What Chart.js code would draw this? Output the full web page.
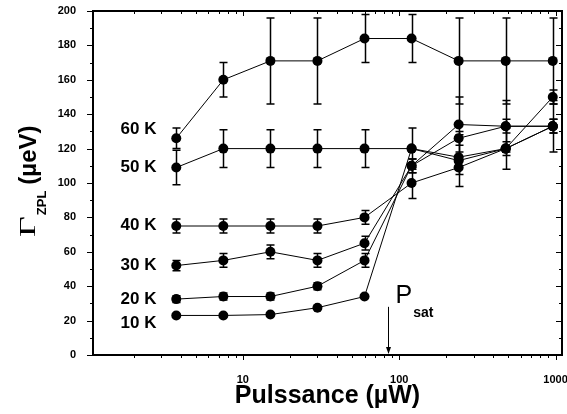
<!DOCTYPE html>
<html>
<head>
<meta charset="utf-8">
<script src="https://cdn.jsdelivr.net/npm/chart.js@4.4.0/dist/chart.umd.min.js"></script>
<style>
  html, body { margin: 0; padding: 0; background: #fff; }
  #wrap { width: 567px; height: 414px; }
</style>
</head>
<body>
<div id="wrap"><canvas id="chart"></canvas></div>
<script>
// excitation power (µW)
const powers = [3.75, 7.5, 15, 30, 60, 120, 240, 480, 960];

// zero-phonon linewidth (µeV) per temperature
const temps = ['10 K', '20 K', '30 K', '40 K', '50 K', '60 K'];
const g10 = [23, 23, 23.5, 27.5, 34, 120, 115, 120, 133];
const g20 = [32.5, 34, 34, 40, 55, 110, 134, 133, 133];
const g30 = [52, 55, 60, 55, 65, 110, 126, 133, 133];
const g40 = [75, 75, 75, 75, 80, 100, 109, 120, 150];
const g50 = [109, 120, 120, 120, 120, 120, 113, 120, 133];
const g60 = [126, 160, 171, 171, 184, 184, 171, 171, 171];

// error bars (µeV, +/-)
const e10 = [0, 0, 0, 0, 0, 0, 0, 0, 0];
const e20 = [2, 2, 2, 2, 4, 4, 16, 4, 4];
const e30 = [3, 4, 4, 4, 4, 4, 4, 15, 4];
const e40 = [4, 4, 4, 4, 4, 9, 4, 4, 4];
const e50 = [10, 11, 11, 11, 11, 12, 15, 12, 15];
const e60 = [6, 10, 25, 25, 14, 14, 25, 25, 25];

// axis ticks
const xTicks = [2, 3, 4, 5, 6, 7, 8, 9, 10, 20, 30, 40, 50, 60, 70, 80, 90, 100,
                200, 300, 400, 500, 600, 700, 800, 900, 1000];
const xLabels = [10, 100, 1000];

// saturation power marker (µW)
const psat = 85;

const series = [g10, g20, g30, g40, g50, g60];
const errors = [e10, e20, e30, e40, e50, e60];
// where the temperature labels sit (data coords: x in µW, y in µeV)
const labelAt = [[2.8, 18.5], [2.8, 32.5], [2.8, 52], [2.8, 75.5], [2.8, 109], [2.8, 131]];

const datasets = series.map((vals, i) => ({
    label: temps[i],
    data: powers.map((p, j) => ({ x: p, y: vals[j] })),
    errs: errors[i],
    borderColor: '#000',
    backgroundColor: '#000',
    borderWidth: 1,
    pointRadius: 5,
    pointBackgroundColor: '#000',
    pointBorderWidth: 0,
    showLine: true,
    fill: false
}));

// error bars behind the dots
const errorBars = {
    id: 'errorBars',
    beforeDatasetsDraw(chart) {
        const ctx = chart.ctx;
        const x = chart.scales.x, y = chart.scales.y;
        ctx.save();
        ctx.strokeStyle = '#000';
        ctx.lineWidth = 1.5;
        chart.data.datasets.forEach(ds => {
            ds.data.forEach((pt, j) => {
                const e = ds.errs[j];
                if (!e) return;
                const px = Math.round(x.getPixelForValue(pt.x)) + 0.5;
                const top = y.getPixelForValue(pt.y + e);
                const bot = y.getPixelForValue(pt.y - e);
                ctx.beginPath();
                ctx.moveTo(px, top); ctx.lineTo(px, bot);
                ctx.moveTo(px - 4, top); ctx.lineTo(px + 4, top);
                ctx.moveTo(px - 4, bot); ctx.lineTo(px + 4, bot);
                ctx.stroke();
            });
        });
        ctx.restore();
    }
};

// frame, ticks on all four sides, titles and annotations
const decor = {
    id: 'decor',
    afterDraw(chart) {
        const ctx = chart.ctx;
        const a = chart.chartArea;
        const x = chart.scales.x, y = chart.scales.y;
        ctx.save();
        ctx.strokeStyle = '#000';
        ctx.fillStyle = '#000';

        ctx.lineWidth = 1;
        ctx.beginPath();
        x.ticks.forEach(t => {
            const px = Math.round(x.getPixelForValue(t.value)) + 0.5;
            const len = xLabels.includes(t.value) ? 5 : 3;
            ctx.moveTo(px, a.bottom); ctx.lineTo(px, a.bottom + len);
            ctx.moveTo(px, a.top); ctx.lineTo(px, a.top + len);
        });
        y.ticks.forEach(t => {
            const py = Math.round(y.getPixelForValue(t.value)) + 0.5;
            const len = t.value % 20 === 0 ? 6 : 3;
            ctx.moveTo(a.left, py); ctx.lineTo(a.left - len, py);
            ctx.moveTo(a.right, py); ctx.lineTo(a.right - len, py);
        });
        ctx.stroke();

        ctx.lineWidth = 2;
        ctx.strokeRect(a.left, a.top, a.right - a.left, a.bottom - a.top);

        // temperature labels
        ctx.font = 'bold 17px "Liberation Sans", Arial, sans-serif';
        ctx.textAlign = 'right';
        ctx.textBaseline = 'middle';
        temps.forEach((t, i) => {
            ctx.fillText(t, x.getPixelForValue(labelAt[i][0]), y.getPixelForValue(labelAt[i][1]));
        });

        // Psat arrow
        const ax = Math.round(x.getPixelForValue(psat)) + 0.5;
        const ay = y.getPixelForValue(28);
        ctx.lineWidth = 1;
        ctx.beginPath();
        ctx.moveTo(ax, ay); ctx.lineTo(ax, a.bottom - 2);
        ctx.stroke();
        ctx.beginPath();
        ctx.moveTo(ax - 2.5, a.bottom - 8); ctx.lineTo(ax + 2.5, a.bottom - 8); ctx.lineTo(ax, a.bottom - 1);
        ctx.closePath();
        ctx.fill();
        ctx.textAlign = 'left';
        ctx.textBaseline = 'alphabetic';
        ctx.font = '25px "Liberation Sans", Arial, sans-serif';
        ctx.fillText('P', ax + 7, ay - 4);
        const pw = ctx.measureText('P').width;
        ctx.font = 'bold 14px "Liberation Sans", Arial, sans-serif';
        ctx.fillText('sat', ax + 8 + pw, ay + 10);

        // x title
        ctx.textAlign = 'center';
        ctx.font = 'bold 25px "Liberation Sans", Arial, sans-serif';
        ctx.fillText('Pulssance (\u00b5W)', (a.left + a.right) / 2, 403);

        // y title, rotated
        ctx.translate(35, 237);
        ctx.rotate(-Math.PI / 2);
        ctx.textAlign = 'left';
        ctx.font = '24px "Liberation Serif", serif';
        const gw = ctx.measureText('\u0393').width;
        ctx.save();
        ctx.scale(1.5, 1);
        ctx.fillText('\u0393', 0, 0);
        ctx.restore();
        let w = gw * 1.5 + 1;
        ctx.font = 'bold 13px "Liberation Sans", Arial, sans-serif';
        ctx.fillText('ZPL', w, 11);
        w += ctx.measureText('ZPL').width + 6;
        ctx.font = 'bold 24px "Liberation Sans", Arial, sans-serif';
        ctx.fillText('(\u00b5eV)', w, 1);
        ctx.restore();
    }
};

new Chart(document.getElementById('chart').getContext('2d'), {
    type: 'scatter',
    data: { datasets: datasets },
    options: {
        responsive: true,
        maintainAspectRatio: false,
        animation: false,
        layout: { padding: { top: 11, right: 5, left: 0, bottom: 0 } },
        plugins: { legend: { display: false }, tooltip: { enabled: false } },
        scales: {
            x: {
                type: 'logarithmic',
                min: 1.1,
                max: 1100,
                afterBuildTicks: s => { s.ticks = xTicks.map(v => ({ value: v, major: xLabels.includes(v) })); },
                afterFit: s => { s.height = 59; s.paddingLeft = 0; s.paddingRight = 0; },
                grid: { display: false },
                border: { display: false },
                ticks: {
                    autoSkip: false,
                    maxRotation: 0,
                    padding: 10,
                    color: '#000',
                    font: { family: '"Liberation Sans", Arial, sans-serif', size: 11, weight: 'bold' },
                    callback: v => xLabels.includes(v) ? String(v) : ''
                }
            },
            y: {
                min: 0,
                max: 200,
                afterFit: s => { s.width = 93; s.paddingTop = 0; s.paddingBottom = 0; },
                grid: { display: false },
                border: { display: false },
                ticks: {
                    stepSize: 10,
                    padding: 9,
                    color: '#000',
                    font: { family: '"Liberation Sans", Arial, sans-serif', size: 11, weight: 'bold' },
                    callback: v => v % 20 === 0 ? String(v) : ''
                }
            }
        }
    },
    plugins: [errorBars, decor]
});
</script>
</body>
</html>
